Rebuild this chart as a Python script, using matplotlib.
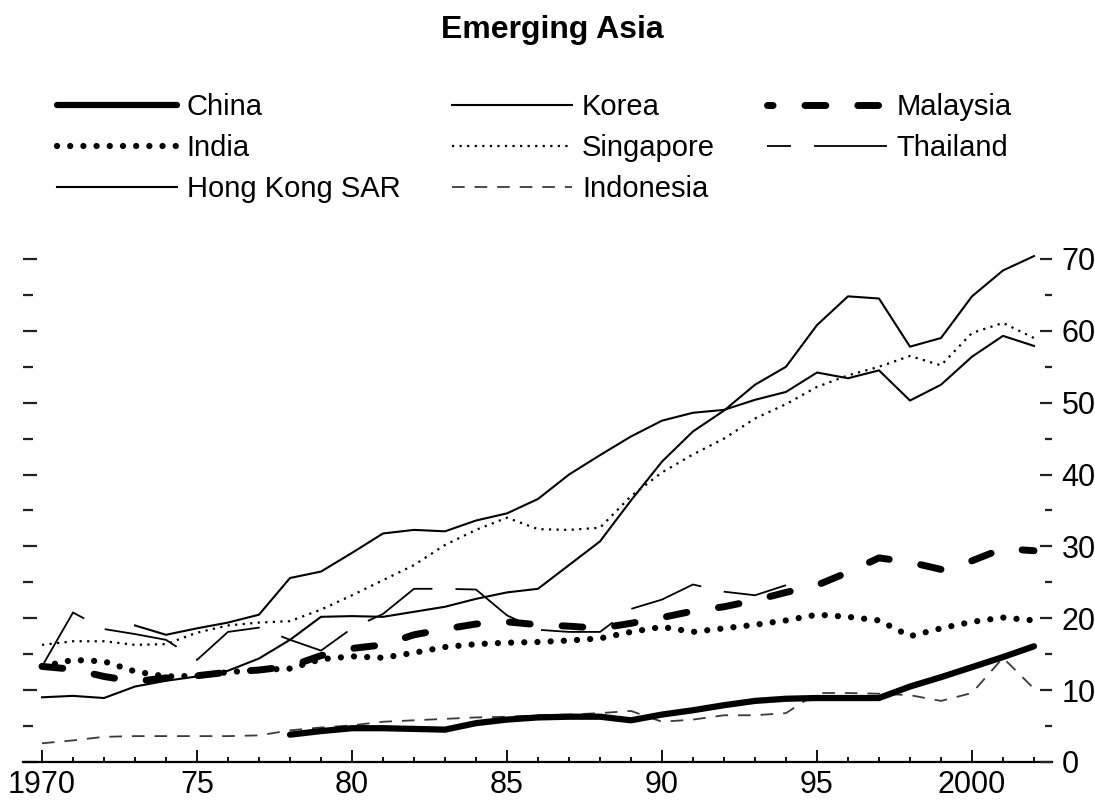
import numpy as np
import matplotlib.pyplot as plt
from matplotlib.lines import Line2D
from matplotlib.ticker import MultipleLocator, FixedLocator

plt.rcParams['font.family'] = ['Liberation Sans Narrow', 'Liberation Sans', 'DejaVu Sans']

# --- Series (percent), one value per year
years = np.arange(1970, 2003)
china_years = np.arange(1978, 2003)
hk_years = np.arange(1973, 2003)
thai_years = np.arange(1970, 1995)

china = [3.8, 4.3, 4.7, 4.7, 4.6, 4.5, 5.4, 5.9, 6.2, 6.3, 6.3, 5.8, 6.6, 7.2,
         7.9, 8.5, 8.8, 8.9, 8.9, 8.9, 10.5, 11.8, 13.2, 14.6, 16.1]
india = [13.3, 14.2, 14.0, 12.6, 11.9, 12.0, 12.5, 12.8, 13.0, 14.3, 14.7, 14.5,
         15.2, 16.0, 16.4, 16.6, 16.7, 16.9, 17.2, 18.1, 18.8, 18.1, 18.6, 19.1,
         19.7, 20.5, 20.2, 19.7, 17.5, 18.6, 19.5, 20.1, 19.7]
hong_kong = [19.0, 17.7, 18.6, 19.4, 20.5, 25.6, 26.5, 29.1, 31.8, 32.3, 32.1,
             33.6, 34.6, 36.6, 40.0, 42.7, 45.3, 47.5, 48.6, 49.0, 50.4, 51.5,
             54.2, 53.4, 54.5, 50.3, 52.5, 56.4, 59.3, 57.9]
korea = [9.0, 9.2, 8.9, 10.5, 11.3, 11.9, 12.7, 14.4, 17.0, 20.2, 20.3, 20.2,
         20.9, 21.6, 22.7, 23.6, 24.1, 27.4, 30.7, 36.4, 41.8, 46.0, 48.9, 52.5,
         55.0, 60.8, 64.8, 64.5, 57.8, 59.0, 64.8, 68.4, 70.4]
singapore = [16.3, 16.8, 16.8, 16.3, 16.4, 18.0, 19.0, 19.4, 19.6, 21.2, 23.2,
             25.3, 27.4, 30.2, 32.3, 34.0, 32.4, 32.3, 32.6, 37.0, 40.3, 42.8,
             45.0, 47.8, 49.8, 52.2, 53.8, 55.0, 56.5, 55.2, 59.7, 61.1, 59.0]
indonesia = [2.6, 3.0, 3.5, 3.6, 3.6, 3.6, 3.6, 3.7, 4.4, 4.8, 5.1, 5.6, 5.8,
             6.0, 6.2, 6.3, 6.5, 6.6, 6.8, 7.1, 5.6, 5.9, 6.5, 6.5, 6.8, 9.6,
             9.6, 9.5, 9.3, 8.5, 9.6, 14.5, 10.2]
malaysia = [13.3, 12.9, 11.9, 11.2, 11.7, 12.0, 12.5, 12.8, 13.3, 14.8, 15.8,
            16.3, 17.7, 18.5, 19.2, 19.5, 19.1, 18.9, 18.6, 19.3, 20.1, 21.0,
            21.6, 22.5, 23.6, 24.6, 26.4, 28.4, 27.8, 26.8, 28.0, 29.7, 29.4]
thailand = [13.3, 20.8, 18.5, 17.8, 17.0, 14.2, 18.1, 18.7, 17.0, 15.5, 18.6,
            20.6, 24.1, 24.1, 24.0, 20.4, 18.4, 18.1, 18.1, 21.3, 22.6, 24.7,
            23.7, 23.2, 24.6]

x_labels = ['1970', '75', '80', '85', '90', '95', '2000']
y_labels = ['0', '10', '20', '30', '40', '50', '60', '70']

fig = plt.figure(figsize=(10.95, 8.02), dpi=100)
ax = fig.add_axes([0.0210, 0.0499, 0.9397, 0.6451])

# estilos
thai_dash = (41.5, 12.8)
mal_dash = (3.0, 4.6)

l_ind, = ax.plot(years, indonesia, color='#3a3a3a', lw=1.3, dashes=(7.0, 5.5),
                 label='Indonesia')
l_thai, = ax.plot(thai_years, thailand, color='black', lw=1.3, dashes=thai_dash,
                  label='Thailand')
l_hk, = ax.plot(hk_years, hong_kong, color='black', lw=1.5, label='Hong Kong SAR')
l_kor, = ax.plot(years, korea, color='black', lw=1.5, label='Korea')
l_sgp, = ax.plot(years, singapore, color='black', lw=1.6, dashes=(1.0, 2.4),
                 label='Singapore')
l_mal, = ax.plot(years, malaysia, color='black', lw=5, dashes=mal_dash,
                 dash_capstyle='round', label='Malaysia')
l_india, = ax.plot(years, india, color='black', lw=4.5, dashes=(0.01, 2.1),
                   dash_capstyle='round', label='India')
l_china, = ax.plot(china_years, china, color='black', lw=4.5,
                   solid_capstyle='round', label='China')

ax.set_xlim(1969.387, 2002.58)
ax.set_ylim(0, 72)

for s in ['top', 'right', 'left']:
    ax.spines[s].set_visible(False)
ax.spines['bottom'].set_linewidth(1.6)

ax.xaxis.set_major_locator(FixedLocator(np.arange(1970, 2001, 5)))
ax.xaxis.set_minor_locator(MultipleLocator(1))
ax.set_xticklabels(x_labels)
ax.tick_params(axis='x', which='major', direction='in', length=8.5, width=1.3,
               labelsize=22, pad=6)
ax.tick_params(axis='x', which='minor', direction='in', length=3.6, width=1.3)

ax.yaxis.set_major_locator(MultipleLocator(10))
ax.yaxis.set_minor_locator(MultipleLocator(5))
ax.tick_params(axis='y', which='major', direction='in', length=10, width=1.6,
               color='#222222', labelleft=False)
ax.tick_params(axis='y', which='minor', direction='in', length=7, width=1.6,
               color='#222222')

ax2 = ax.twinx()
ax2.set_ylim(0, 72)
for s in ['top', 'right', 'left', 'bottom']:
    ax2.spines[s].set_visible(False)
ax2.yaxis.set_major_locator(FixedLocator(np.arange(0, 71, 10)))
ax2.yaxis.set_minor_locator(MultipleLocator(5))
ax2.set_yticklabels(y_labels)
ax2.tick_params(axis='y', which='major', direction='in', length=8.6, width=1.6,
                color='#222222', labelsize=22, pad=7)
ax2.tick_params(axis='y', which='minor', direction='in', length=5, width=1.6,
                color='#222222')

# leyenda: Malasia y Tailandia con otro desfase del patrón
mal_proxy = Line2D([], [], color='black', lw=5, dash_capstyle='round',
                   linestyle=(2.2, mal_dash))
thai_proxy = Line2D([], [], color='black', lw=1.3,
                    linestyle=(28.2, thai_dash))

handles = [l_china, l_india, l_hk, l_kor, l_sgp, l_ind, mal_proxy, thai_proxy]
labels = ['China', 'India', 'Hong Kong SAR', 'Korea', 'Singapore', 'Indonesia',
          'Malaysia', 'Thailand']
fig.legend(handles, labels, loc='upper left', bbox_to_anchor=(0.052, 0.884),
           ncol=3, frameon=False, fontsize=21, handlelength=4.1,
           handletextpad=0.35, columnspacing=1.78, labelspacing=0.45,
           borderpad=0, borderaxespad=0)

fig.text(0.504, 1 - 30 / 802, 'Emerging Asia', ha='center', va='center',
         fontsize=23, fontweight='bold')

fig.savefig('out.png', dpi=100)
